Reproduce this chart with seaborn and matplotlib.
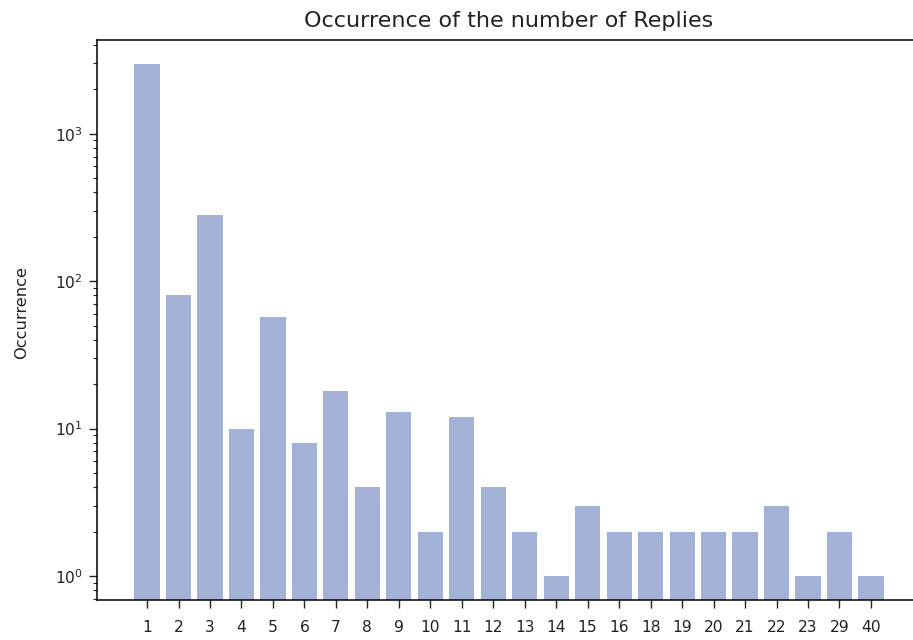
import matplotlib
matplotlib.use("Agg")
import matplotlib.pyplot as plt
import seaborn as sns
import pandas as pd

# Number of replies per thread and how often each count occurs
replies = ["1", "2", "3", "4", "5", "6", "7", "8", "9", "10", "11", "12",
           "13", "14", "15", "16", "18", "19", "20", "21", "22", "23", "29", "40"]
occurrence = [2975, 80, 279, 10, 57, 8, 18, 4, 13, 2, 12, 4,
              2, 1, 3, 2, 2, 2, 2, 2, 3, 1, 2, 1]

df = pd.DataFrame({"Replies": replies, "Occurrence": occurrence})

text_color = "#222222"
plt.rcParams.update({
    "text.color": text_color,
    "axes.labelcolor": text_color,
    "xtick.color": text_color,
    "ytick.color": text_color,
    "xtick.labelcolor": text_color,
    "ytick.labelcolor": text_color,
    "xtick.major.size": 5.8,
    "ytick.major.size": 5.8,
    "ytick.minor.size": 2.9,
    "xtick.major.width": 1.0,
    "ytick.major.width": 1.0,
    "ytick.minor.width": 0.8,
    "axes.linewidth": 1.1,
})

dpi = 100
fig = plt.figure(figsize=(913 / dpi, 640 / dpi), dpi=dpi)
ax = fig.add_axes([97 / 913, 1 - 600 / 640, (921 - 97) / 913, (600 - 40) / 640])

sns.barplot(data=df, x="Replies", y="Occurrence", order=replies,
            color="#a4b1d6", saturation=1, errorbar=None, linewidth=0,
            width=0.8, ax=ax)
ax.set_yscale("log")
ax.set_ylim(0.689, 4315)
ax.set_xlim(-1.59, len(replies) - 1 + 1.59)
ax.spines["right"].set_visible(False)

ax.tick_params(axis="x", labelsize=11.2, pad=8.5)
ax.tick_params(axis="y", which="major", labelsize=11.2, pad=4.2)

ax.set_title("Occurrence of the number of Replies", fontsize=16, pad=9.4)
ax.set_xlabel("")
ax.set_ylabel("Occurrence", fontsize=11.7)
ax.yaxis.set_label_coords(-0.0825, 0.514)

fig.savefig("out.png", dpi=dpi)
